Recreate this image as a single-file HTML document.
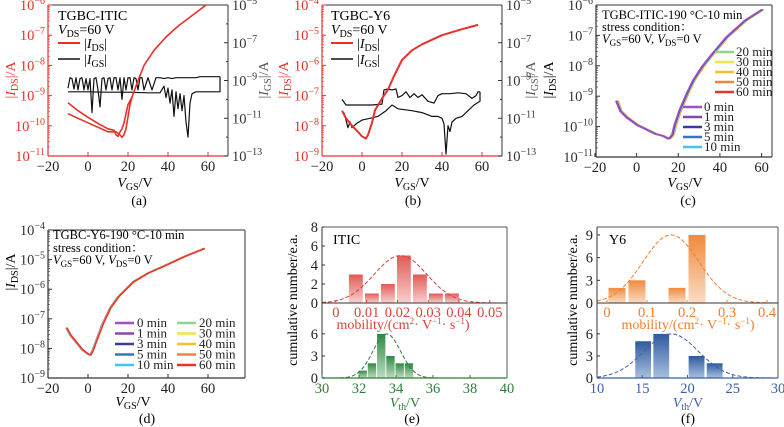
<!DOCTYPE html>
<html><head><meta charset="utf-8"><style>
html,body{margin:0;padding:0;background:#fff;}
svg{display:block;font-family:"Liberation Serif","Noto Serif CJK SC",serif;}
</style></head><body>
<svg id="fig" width="784" height="427" viewBox="0 0 784 427">
<defs>
<linearGradient id="gRed" x1="0" y1="0" x2="0" y2="1"><stop offset="0" stop-color="#e25a55"/><stop offset="1" stop-color="#f7d0ce"/></linearGradient>
<linearGradient id="gGreen" x1="0" y1="0" x2="0" y2="1"><stop offset="0" stop-color="#2f8a45"/><stop offset="1" stop-color="#b9dcbf"/></linearGradient>
<linearGradient id="gOrange" x1="0" y1="0" x2="0" y2="1"><stop offset="0" stop-color="#ef8a3e"/><stop offset="1" stop-color="#fbdcc4"/></linearGradient>
<linearGradient id="gBlue" x1="0" y1="0" x2="0" y2="1"><stop offset="0" stop-color="#2f5a9e"/><stop offset="1" stop-color="#a9bfe0"/></linearGradient>
</defs>
<g font-size="14">
<text x="58" y="20">TGBC-ITIC</text>
<text x="58" y="34"><tspan font-style="italic">V</tspan><tspan font-size="10" dy="3">DS</tspan><tspan dy="-3">=60 V</tspan></text>
<line x1="58" y1="43" x2="80" y2="43" stroke="#e8302a" stroke-width="2"/>
<text x="84" y="48">|<tspan font-style="italic">I</tspan><tspan font-size="10" dy="3">DS</tspan><tspan dy="-3">|</tspan></text>
<line x1="58" y1="59" x2="80" y2="59" stroke="#111" stroke-width="1.5"/>
<text x="84" y="64">|<tspan font-style="italic">I</tspan><tspan font-size="10" dy="3">GS</tspan><tspan dy="-3">|</tspan></text>
<text transform="translate(15,80) rotate(-90)" text-anchor="middle" fill="#e8302a">|<tspan font-style="italic">I</tspan><tspan font-size="10" dy="3">DS</tspan><tspan dy="-3">|/A</tspan></text>
<text transform="translate(268,80) rotate(-90)" text-anchor="middle" fill="#555">|<tspan font-style="italic">I</tspan><tspan font-size="10" dy="3">GS</tspan><tspan dy="-3">|/A</tspan></text>
<text x="135" y="187" text-anchor="middle"><tspan font-style="italic">V</tspan><tspan font-size="10" dy="3">GS</tspan><tspan dy="-3">/V</tspan></text>
<text x="139" y="205" text-anchor="middle">(a)</text>
<text x="331" y="20">TGBC-Y6</text>
<text x="331" y="34"><tspan font-style="italic">V</tspan><tspan font-size="10" dy="3">DS</tspan><tspan dy="-3">=60 V</tspan></text>
<line x1="331" y1="43" x2="353" y2="43" stroke="#e8302a" stroke-width="2"/>
<text x="357" y="48">|<tspan font-style="italic">I</tspan><tspan font-size="10" dy="3">DS</tspan><tspan dy="-3">|</tspan></text>
<line x1="331" y1="59" x2="353" y2="59" stroke="#111" stroke-width="1.5"/>
<text x="357" y="64">|<tspan font-style="italic">I</tspan><tspan font-size="10" dy="3">GS</tspan><tspan dy="-3">|</tspan></text>
<text transform="translate(288,80) rotate(-90)" text-anchor="middle" fill="#e8302a">|<tspan font-style="italic">I</tspan><tspan font-size="10" dy="3">DS</tspan><tspan dy="-3">|/A</tspan></text>
<text transform="translate(535,80) rotate(-90)" text-anchor="middle" fill="#555">|<tspan font-style="italic">I</tspan><tspan font-size="10" dy="3">GS</tspan><tspan dy="-3">|/A</tspan></text>
<text x="412" y="187" text-anchor="middle"><tspan font-style="italic">V</tspan><tspan font-size="10" dy="3">GS</tspan><tspan dy="-3">/V</tspan></text>
<text x="413" y="205" text-anchor="middle">(b)</text>
<text x="602" y="19" font-size="12.5">TGBC-ITIC-190 °C-10 min</text>
<text x="602" y="31" font-size="12.5">stress condition：</text>
<text x="602" y="43" font-size="12.5"><tspan font-style="italic">V</tspan><tspan font-size="9" dy="3">GS</tspan><tspan dy="-3">=60 V, </tspan><tspan font-style="italic">V</tspan><tspan font-size="9" dy="3">DS</tspan><tspan dy="-3">=0 V</tspan></text>
<text transform="translate(553,80) rotate(-90)" text-anchor="middle">|<tspan font-style="italic">I</tspan><tspan font-size="10" dy="3">DS</tspan><tspan dy="-3">|/A</tspan></text>
<text x="685" y="187" text-anchor="middle"><tspan font-style="italic">V</tspan><tspan font-size="10" dy="3">GS</tspan><tspan dy="-3">/V</tspan></text>
<text x="688" y="205" text-anchor="middle">(c)</text>
<text x="53" y="239" font-size="12.5">TGBC-Y6-190 °C-10 min</text>
<text x="53" y="252" font-size="12.5">stress condition：</text>
<text x="53" y="264" font-size="12.5"><tspan font-style="italic">V</tspan><tspan font-size="9" dy="3">GS</tspan><tspan dy="-3">=60 V, </tspan><tspan font-style="italic">V</tspan><tspan font-size="9" dy="3">DS</tspan><tspan dy="-3">=0 V</tspan></text>
<text transform="translate(15,272) rotate(-90)" text-anchor="middle">|<tspan font-style="italic">I</tspan><tspan font-size="10" dy="3">DS</tspan><tspan dy="-3">|/A</tspan></text>
<text x="133" y="406" text-anchor="middle"><tspan font-style="italic">V</tspan><tspan font-size="10" dy="3">GS</tspan><tspan dy="-3">/V</tspan></text>
<text x="147" y="423" text-anchor="middle">(d)</text>
<text transform="translate(297,300) rotate(-90)" text-anchor="middle">cumulative number/e.a.</text>
<text x="333" y="244">ITIC</text>
<text x="403" y="329" text-anchor="middle" fill="#d9403a">mobility/(cm<tspan font-size="9" dy="-5">2</tspan><tspan dy="5">· V</tspan><tspan font-size="9" dy="-5">−1</tspan><tspan dy="5">· s</tspan><tspan font-size="9" dy="-5">−1</tspan><tspan dy="5">)</tspan></text>
<text x="405" y="407" text-anchor="middle" fill="#2e7d3a"><tspan font-style="italic">V</tspan><tspan font-size="10" dy="3">th</tspan><tspan dy="-3">/V</tspan></text>
<text x="412" y="423" text-anchor="middle">(e)</text>
<text transform="translate(577,300) rotate(-90)" text-anchor="middle">cumulative number/e.a.</text>
<text x="609" y="244">Y6</text>
<text x="688" y="329" text-anchor="middle" fill="#ef7d2e">mobility/(cm<tspan font-size="9" dy="-5">2</tspan><tspan dy="5">· V</tspan><tspan font-size="9" dy="-5">−1</tspan><tspan dy="5">· s</tspan><tspan font-size="9" dy="-5">−1</tspan><tspan dy="5">)</tspan></text>
<text x="688" y="407" text-anchor="middle" fill="#3b5ea6"><tspan font-style="italic">V</tspan><tspan font-size="10" dy="3">th</tspan><tspan dy="-3">/V</tspan></text>
<text x="688" y="423" text-anchor="middle">(f)</text>
</g>
</svg>
<script>
const xTicksV = [-20, 0, 20, 40, 60];
const aDsUpV = [-10,-5,0,5,10,13,14,15,16,17,18,19,20,22,25,28,33,39,45,52,59];
const aDsUpLog = [-9.24,-9.5,-9.72,-9.92,-10.1,-10.15,-10.3,-10.35,-10.2,-10.1,-9.9,-9.6,-9.3,-9.05,-8.5,-8.0,-7.5,-7.06,-6.7,-6.35,-6.0];
const aDsLoV = [-10,-5,0,5,10,14,16,17,18,19,20,21,22];
const aDsLoLog = [-9.6,-9.75,-9.9,-10.05,-10.2,-10.2,-10.3,-10.38,-10.3,-10.1,-9.7,-9.3,-9.05];
const aGsUpV = [-10,-9,-8,-7,-6,-5,-4,-3,-2,-1,0,1,2,3,4,5,6,7,8,9,10,11,12,13,14,15,16,17,18,19,20,21,22,23,24,25,26,27,28,30,32,34,36,38,40,42,44,46,48,50,52,54,56,58,60,62,64,66];
const aGsUpLog = [-9.4,-8.85,-8.9,-9.45,-8.85,-9.5,-8.9,-8.85,-9.5,-8.9,-9.5,-8.9,-10.7,-8.9,-8.85,-9.5,-10.4,-8.9,-8.85,-9.5,-8.9,-8.85,-9.5,-8.85,-8.85,-9.5,-8.85,-10.0,-8.85,-9.5,-8.85,-8.85,-9.5,-8.85,-8.9,-9.5,-8.85,-8.85,-9.5,-8.85,-9.5,-8.85,-8.85,-8.9,-8.85,-8.9,-8.85,-8.85,-8.85,-8.85,-8.85,-8.85,-8.8,-8.8,-8.8,-8.8,-8.8,-8.8];
const aGsLoV = [-10,0,10,20,30,36,38,39,40,41,42,43,44,45,46,47,48,49,50,51,52,54,58,62,66,66];
const aGsLoLog = [-9.6,-9.6,-9.62,-9.62,-9.65,-9.65,-9.3,-9.9,-9.4,-10.2,-9.5,-10.9,-9.6,-10.5,-9.7,-10.6,-9.8,-11.2,-12.0,-10.2,-9.7,-9.6,-9.6,-9.6,-9.6,-8.8];
const bDsV = [-10,-8,-5,-2,0,2,3,5,6.5,10,13,16,20,25,30,40,50,58];
const bDsLog = [-7.5,-7.75,-8.0,-8.2,-8.35,-8.42,-8.3,-7.9,-7.48,-7.1,-6.8,-6.35,-5.82,-5.5,-5.3,-5.0,-4.8,-4.66];
const bGsFwdV = [-10,-8,-6,-4,0,5,10,11,13,15,17,18,20,22,24,26,28,30,33,36,38,40,44,48,52,55,57,58,59];
const bGsFwdLog = [-10.0,-10.3,-10.3,-10.3,-10.3,-10.3,-10.25,-9.5,-9.45,-9.5,-9.45,-9.9,-9.8,-9.6,-9.9,-9.7,-9.9,-9.75,-10.1,-10.2,-9.8,-9.7,-9.7,-9.65,-9.7,-9.95,-9.8,-9.6,-9.6];
const bGsRevV = [59,59,56,53,50,47,45,44,43,42,41,40,38,35,30,25,18,15,12,8,4,0,-3,-5,-6,-7,-8,-9];
const bGsRevLog = [-9.6,-10.1,-10.3,-10.6,-10.9,-11.0,-11.2,-11.7,-11.4,-12.9,-11.3,-11.0,-10.9,-10.9,-10.7,-10.6,-10.5,-10.3,-10.6,-10.9,-11.0,-11.1,-11.3,-11.5,-11.2,-11.5,-11.1,-10.7];
const stressTimes = ['0 min','1 min','3 min','5 min','10 min','20 min','30 min','40 min','50 min','60 min'];
const stressColors = ['#a24fc2','#8e44ad','#3a3a9e','#3a73c2','#45c3ea','#8fd38f','#f1e44a','#f5c02a','#f08634','#ee3324'];
const cShiftV = [0,0.1,0.25,0.4,0.5,0.6,0.7,0.8,0.9,1.0];
const dShiftV = [0,0.05,0.1,0.15,0.2,0.25,0.3,0.35,0.4,0.45];
const cV = [-10,-8,-5,-2,0,3,6,9,12,15,16,17,18,20.5,24,27,31,35,43,52,60];
const cLog = [-9.15,-9.5,-9.7,-9.85,-9.95,-10.05,-10.15,-10.25,-10.3,-10.4,-10.35,-10.25,-9.95,-9.45,-8.9,-8.47,-8.05,-7.7,-7.05,-6.5,-6.15];
const dV = [-11,-9,-6,-3,0,1,2,4.5,7,11,15,22.5,30,39,48,58];
const dLog = [-7.3,-7.55,-7.8,-8.05,-8.2,-8.22,-8.1,-7.65,-7.2,-6.63,-6.25,-5.75,-5.45,-5.18,-4.9,-4.62];
const eMobCenters = [0.0065,0.0117,0.0169,0.0221,0.0273,0.0325,0.0377];
const eMobCounts = [3,1,2,5,3,1,1];
const eMobFit = [0.021,0.0085,5];
const eVthCenters = [32.2,32.7,33.2,33.7,34.2,34.7];
const eVthCounts = [1,2,6,3,2,2];
const eVthFit = [33.5,0.75,6];
const fMobCenters = [0.025,0.075,0.175,0.225];
const fMobCounts = [2,3,2,9];
const fMobFit = [0.16,0.07,9];
const fVthCenters = [15.1,17.1,21.0,23.0];
const fVthCounts = [5,6,3,2];
const fVthFit = [18.2,3.0,6];
const eMobTicks = ['0','0.01','0.02','0.03','0.04','0.05'];
const eVthTicks = ['30','32','34','36','38','40'];
const fMobTicks = ['0','0.1','0.2','0.3','0.4'];
const fVthTicks = ['10','15','20','25','30'];

const NS = 'http://www.w3.org/2000/svg';
const svg = document.getElementById('fig');
function mk(tag, parent) { const e = document.createElementNS(NS, tag); (parent || svg).appendChild(e); return e; }
function lin(d0, d1, r0, r1) { return v => r0 + (v - d0) * (r1 - r0) / (d1 - d0); }
function group(name) {
  const g = mk('g');
  
  
  return g;
}
function line(g, x1, y1, x2, y2, color, w, name) {
  const l = mk('line', g);
  l.setAttribute('x1', x1); l.setAttribute('y1', y1); l.setAttribute('x2', x2); l.setAttribute('y2', y2);
  l.setAttribute('stroke', color); l.setAttribute('stroke-width', w);
  
  
  return l;
}
function text(g, x, y, str, anchor, color, name, size) {
  const t = mk('text', g);
  t.setAttribute('x', x); t.setAttribute('y', y);
  t.setAttribute('text-anchor', anchor); t.setAttribute('fill', color);
  t.setAttribute('font-size', size || 14);
  t.textContent = str;
  
  
  return t;
}
function expLabel(g, x, y, e, anchor, color, name) {
  const t = mk('text', g);
  t.setAttribute('x', x); t.setAttribute('y', y);
  t.setAttribute('text-anchor', anchor); t.setAttribute('fill', color);
  t.setAttribute('font-size', 14.5);
  t.appendChild(document.createTextNode('10'));
  const s = mk('tspan', t);
  s.setAttribute('font-size', 10); s.setAttribute('dy', -6);
  s.textContent = '\u2212' + Math.abs(e);
  
  
}
function poly(g, xs, ys, sx, sy, color, w, name, dash) {
  const p = mk('polyline', g);
  p.setAttribute('points', xs.map((v, i) => sx(v).toFixed(1) + ',' + sy(ys[i]).toFixed(1)).join(' '));
  p.setAttribute('fill', 'none'); p.setAttribute('stroke', color); p.setAttribute('stroke-width', w);
  p.setAttribute('stroke-linejoin', 'round');
  if (dash) p.setAttribute('stroke-dasharray', dash);
  
  
  return p;
}

function logPanel(id, P) {
  const g = group('panel-' + id);
  const sx = lin(P.xd[0], P.xd[1], P.x0, P.x1);
  const syL = lin(P.yl[0], P.yl[1], P.y1, P.y0);
  line(g, P.x0, P.y0, P.x1, P.y0, '#333', 1, 'panel-' + id + '-top-spine');
  line(g, P.x1, P.y0, P.x1, P.y1, '#333', 1, 'panel-' + id + '-right-spine');
  line(g, P.x0, P.y1, P.x1, P.y1, P.lc, 1.2, 'panel-' + id + '-x-axis');
  line(g, P.x0, P.y0, P.x0, P.y1, P.lc, 1.2, 'panel-' + id + '-y-axis');
  xTicksV.forEach(v => {
    const x = sx(v);
    line(g, x, P.y1, x, P.y1 - 4, P.lc, 1, 'x-tick');
    text(g, x, P.y1 + 15, (v < 0 ? '\u2212' : '') + Math.abs(v), 'middle', '#222', 'x-tick-label', 14.5);
  });
  for (let e = P.yl[0]; e <= P.yl[1]; e++) {
    const y = syL(e);
    line(g, P.x0, y, P.x0 + 4, y, P.lc, 1, 'y-tick');
    for (let m = 2; m < 10 && e < P.yl[1]; m++) {
      const ym = syL(e + Math.log10(m));
      line(g, P.x0, ym, P.x0 + 2, ym, P.lc, 0.6, 'y-minor-tick');
    }
    expLabel(g, P.x0 - 3, y + 5, e, 'end', P.lc, 'y-tick-label');
  }
  if (P.yr) {
    const syR = lin(P.yr[0], P.yr[1], P.y1, P.y0);
    for (let e = P.yr[0]; e <= P.yr[1]; e++) {
      const y = syR(e);
      line(g, P.x1, y, P.x1 - ((e - P.yr[0]) % 2 ? 2 : 4), y, '#333', 1, 'y-right-tick');
      if ((e - P.yr[0]) % 2 === 0) expLabel(g, P.x1 + 4, y + 5, e, 'start', '#333', 'y-right-tick-label');
    }
    P.syR = syR;
  }
  P.sx = sx; P.syL = syL; P.g = g;
  return P;
}

const A = logPanel('a', {x0:48, x1:228, y0:5, y1:156, xd:[-20,70], yl:[-11,-6], yr:[-13,-5], lc:'#e8302a'});
poly(A.g, aGsUpV, aGsUpLog, A.sx, A.syR, '#111', 1.2, 'a-igs-forward');
poly(A.g, aGsLoV, aGsLoLog, A.sx, A.syR, '#111', 1.2, 'a-igs-reverse');
poly(A.g, aDsUpV, aDsUpLog, A.sx, A.syL, '#e8302a', 1.6, 'a-ids-forward');
poly(A.g, aDsLoV, aDsLoLog, A.sx, A.syL, '#e8302a', 1.6, 'a-ids-reverse');

const B = logPanel('b', {x0:322, x1:502, y0:5, y1:156, xd:[-20,70], yl:[-9,-4], yr:[-13,-5], lc:'#e8302a'});
poly(B.g, bGsFwdV, bGsFwdLog, B.sx, B.syR, '#111', 1.2, 'b-igs-forward');
poly(B.g, bGsRevV, bGsRevLog, B.sx, B.syR, '#111', 1.2, 'b-igs-reverse');
poly(B.g, bDsV, bDsLog, B.sx, B.syL, '#e8302a', 2, 'b-ids');

const C = logPanel('c', {x0:596, x1:772, y0:5, y1:157, xd:[-19.5,65], yl:[-11,-6], lc:'#333'});
for (let i = stressTimes.length - 1; i >= 0; i--) {
  poly(C.g, cV.map(v => v + cShiftV[i]), cLog, C.sx, C.syL, stressColors[i], 1.5, 'c-curve-' + stressTimes[i].replace(' ', ''));
}
stressTimes.forEach((t, i) => {
  const left = i < 5;
  const lx = left ? 683 : 715, ty = left ? 111 + 10 * i : 56 + 10 * (i - 5);
  line(C.g, lx, ty - 4, lx + 19, ty - 4, stressColors[i], 2.5, 'c-legend-line');
  text(C.g, lx + 21, ty, t, 'start', '#222', 'c-legend-label', 13);
});

const D = logPanel('d', {x0:48, x1:245, y0:230, y1:378, xd:[-20,78.5], yl:[-9,-4], lc:'#333'});
for (let i = 0; i < stressTimes.length; i++) {
  poly(D.g, dV.map(v => v + dShiftV[i]), dLog, D.sx, D.syL, stressColors[i], 1.5, 'd-curve-' + stressTimes[i].replace(' ', ''));
}
stressTimes.forEach((t, i) => {
  const left = i < 5;
  const lx = left ? 115 : 177, ty = 327 + 10.5 * (i % 5);
  line(D.g, lx, ty - 4, lx + 19, ty - 4, stressColors[i], 2.5, 'd-legend-line');
  text(D.g, lx + 22, ty, t, 'start', '#222', 'd-legend-label', 13);
});

function hist(id, H) {
  const g = group('panel-' + id);
  const sxU = lin(H.ud[0], H.ud[1], H.x0, H.x1);
  const syU = lin(0, H.umax, H.ymid, H.y0);
  const sxL = lin(H.ld[0], H.ld[1], H.x0, H.x1);
  const syL = lin(0, H.lmax, H.y1, H.ymid);
  H.uc.forEach((c, i) => {
    const r = mk('rect', g);
    r.setAttribute('x', sxU(c - H.uw / 2)); r.setAttribute('width', sxU(H.uw) - sxU(0));
    r.setAttribute('y', syU(H.un[i])); r.setAttribute('height', H.ymid - syU(H.un[i]));
    r.setAttribute('fill', H.ugrad);
    
    
  });
  H.lc.forEach((c, i) => {
    const r = mk('rect', g);
    r.setAttribute('x', sxL(c - H.lw / 2)); r.setAttribute('width', sxL(H.lw) - sxL(0));
    r.setAttribute('y', syL(H.ln[i])); r.setAttribute('height', H.y1 - syL(H.ln[i]));
    r.setAttribute('fill', H.lgrad);
    
    
  });
  const fx = [], fy = [];
  for (let k = 0; k <= 80; k++) { const v = H.ud[0] + (H.ud[1] - H.ud[0]) * k / 80; fx.push(v); fy.push(H.uf[2] * Math.exp(-((v - H.uf[0]) ** 2) / (2 * H.uf[1] ** 2))); }
  poly(g, fx, fy, sxU, syU, H.ucol, 1, id + '-mobility-fit', '4,2');
  const gx = [], gy = [];
  for (let k = 0; k <= 80; k++) { const v = H.ld[0] + (H.ld[1] - H.ld[0]) * k / 80; gx.push(v); gy.push(H.lf[2] * Math.exp(-((v - H.lf[0]) ** 2) / (2 * H.lf[1] ** 2))); }
  poly(g, gx, gy, sxL, syL, H.lcol, 1, id + '-vth-fit', '4,2');
  line(g, H.x0, H.y0, H.x1, H.y0, '#555', 1, id + '-top-spine');
  line(g, H.x1, H.y0, H.x1, H.y1, '#555', 1, id + '-right-spine');
  line(g, H.x0, H.y0, H.x0, H.y1, '#333', 1, id + '-y-axis');
  line(g, H.x0, H.ymid, H.x1, H.ymid, '#333', 1, id + '-mobility-axis');
  line(g, H.x0, H.y1, H.x1, H.y1, H.lcol, 1.2, id + '-vth-axis');
  H.uyt.forEach(v => { const y = syU(v); line(g, H.x0, y, H.x0 + 3, y, '#333', 1, 'y-tick'); text(g, H.x0 - 4, y + 5, String(v), 'end', '#222', 'upper-y-tick-label', 14.5); });
  H.lyt.forEach(v => { const y = syL(v); line(g, H.x0, y, H.x0 + 3, y, '#333', 1, 'y-tick'); text(g, H.x0 - 4, y + 5, String(v), 'end', '#222', 'lower-y-tick-label', 14.5); });
  H.ut.forEach(s => { const x = sxU(parseFloat(s)); line(g, x, H.ymid, x, H.ymid - 3, H.ucol, 1, 'mobility-tick'); text(g, x, H.ymid + 14, s, 'middle', H.ucol, 'mobility-tick-label', 14.5); });
  H.lt.forEach(s => { const x = sxL(parseFloat(s)); line(g, x, H.y1, x, H.y1 - 3, H.lcol, 1, 'vth-tick'); text(g, x, H.y1 + 15, s, 'middle', H.lcol, 'vth-tick-label', 14.5); });
}
hist('e', {x0:322, x1:507, y0:227, ymid:303, y1:378, ud:[-0.0045,0.0556], umax:8, ld:[30,40], lmax:10.2,
  uc:eMobCenters, un:eMobCounts, uw:0.0045, uf:eMobFit, lc:eVthCenters, ln:eVthCounts, lw:0.45, lf:eVthFit,
  ugrad:'url(#gRed)', lgrad:'url(#gGreen)', ucol:'#d9403a', lcol:'#2e7d3a', uyt:[0,2,4,6,8], lyt:[0,3,6], ut:eMobTicks, lt:eVthTicks});
hist('f', {x0:597, x1:778, y0:227, ymid:303, y1:378, ud:[-0.025,0.4275], umax:10.05, ld:[10,30], lmax:10.2,
  uc:fMobCenters, un:fMobCounts, uw:0.0425, uf:fMobFit, lc:fVthCenters, ln:fVthCounts, lw:1.75, lf:fVthFit,
  ugrad:'url(#gOrange)', lgrad:'url(#gBlue)', ucol:'#ef7d2e', lcol:'#3b5ea6', uyt:[0,3,6,9], lyt:[0,3,6], ut:fMobTicks, lt:fVthTicks});
</script>
</body></html>
